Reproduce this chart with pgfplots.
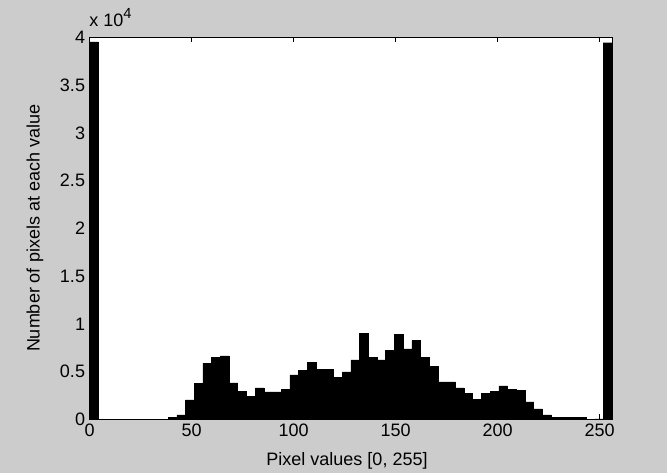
\documentclass[border=0pt]{standalone}
\usepackage{fontspec}
\setmainfont{Liberation Sans}
\usepackage{pgfplots}
\pgfplotsset{compat=1.18}
\definecolor{figbg}{HTML}{CCCCCC}

% histogram: 60 bins over [0,256], left edges with counts
\pgfplotstableread{
edge count
0 39550
4.27 0
8.53 0
12.8 0
17.07 0
21.33 0
25.6 0
29.87 0
34.13 0
38.4 200
42.67 470
46.93 2040
51.2 3790
55.47 5880
59.73 6470
64 6650
68.27 3820
72.53 2910
76.8 2430
81.07 3300
85.33 2880
89.6 2880
93.87 3160
98.13 4660
102.4 5110
106.67 5990
110.93 5250
115.2 5250
119.47 4420
123.73 4970
128 6230
132.27 9020
136.53 6470
140.8 6230
145.07 7200
149.33 8920
153.6 7380
157.87 8250
162.13 6470
166.4 5530
170.67 3930
174.93 3930
179.2 3300
183.47 2740
187.73 2110
192 2740
196.27 2910
200.53 3510
204.8 3160
209.07 3020
213.33 1830
217.6 1100
221.87 470
226.13 200
230.4 200
234.67 200
238.93 200
243.2 30
247.47 50
251.73 39450
256 0
}\histdata

\begin{document}
\begin{tikzpicture}
\fill[figbg] (-67.3pt,-40.1pt) rectangle (433pt,314.6pt);
\begin{axis}[
    at={(0,0)}, anchor=south west,
    scale only axis,
    width=391.7pt, height=286.5pt,
    xmin=0, xmax=256, ymin=0, ymax=40000,
    axis background/.style={fill=white},
    axis on top,
    clip=false,
    axis line style={black, line width=0.6pt},
    tick style={black, line width=0.6pt},
    tick align=inside,
    major tick length=3.75pt,
    xtick pos=both, ytick pos=both,
    xticklabel pos=lower, yticklabel pos=left,
    xtick={0,50,...,250},
    xticklabels={0,50,100,150,200,250},
    ytick={0,5000,...,40000},
    yticklabels={0,0.5,1,1.5,2,2.5,3,3.5,4},
    scaled y ticks=false,
    tick label style={font=\fontsize{13.5}{16}\selectfont},
    xlabel={Pixel values [0, 255]},
    ylabel={Number of pixels at each value},
    every axis x label/.style={at={(axis description cs:0.4927,-0.1211)}, anchor=base,
        font=\fontsize{13.5}{16}\selectfont},
    every axis y label/.style={at={(axis description cs:-0.1047,0.5)}, rotate=90, anchor=center,
        font=\fontsize{13.5}{16}\selectfont},
]
\addplot[ybar interval, fill=black, draw=black, line width=0.3pt] table[x=edge, y=count] {\histdata};
\node[anchor=base west, inner sep=0pt, font=\fontsize{13.5}{16}\selectfont]
    at (axis description cs:-0.001,1.0276) {x 10\raisebox{6pt}{\fontsize{11}{11}\selectfont 4}};
\end{axis}
\end{tikzpicture}
\end{document}
